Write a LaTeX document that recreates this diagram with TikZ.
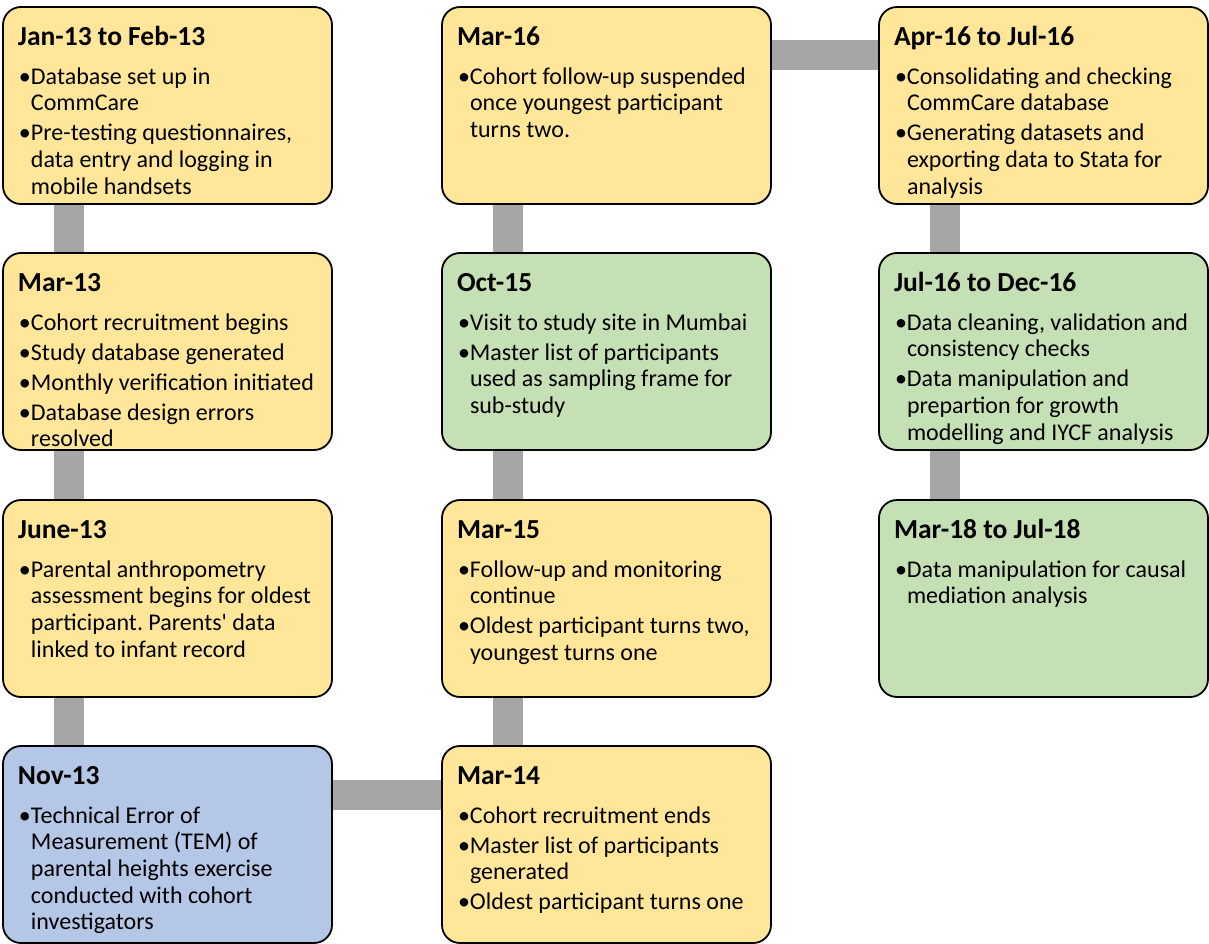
\documentclass[tikz,border=0pt]{standalone}
\usepackage{fontspec}
\setmainfont{Carlito}[Ligatures=TeXOff]
\usetikzlibrary{backgrounds}
\frenchspacing

\definecolor{phaseyellow}{HTML}{FFE699}
\definecolor{phasegreen}{HTML}{C5E0B4}
\definecolor{phaseblue}{HTML}{B4C7E7}
\definecolor{linkgray}{HTML}{A6A6A6}

\newcommand{\bul}{\hspace*{1bp}\makebox[12bp][l]{\textbullet}}
\newcommand{\ind}{\hspace*{13bp}}
\newcommand{\gap}{\\[3.3bp]}
\newcommand{\phase}[2]{\parbox[c][197bp][t]{299bp}{\raggedright
  \fontsize{24bp}{26.7bp}\selectfont
  \rule{0pt}{38bp}{\fontsize{27.5bp}{26.7bp}\selectfont\bfseries #1}\\[12.3bp]#2}}

\begin{document}
\begin{tikzpicture}[x=1bp,y=-1bp,
  phase/.style={draw=black,line width=1.8bp,rounded corners=18bp,
    inner xsep=15bp,inner ysep=0pt},
  link/.style={draw=linkgray,line width=30bp}]
\useasboundingbox (0,0) rectangle (1209,944);
%%
\node (node_0) at (167.5,105.5) [phase,fill=phaseyellow] {\phase{Jan-13 to Feb-13}{%
  \bul Database set up in\\ \ind CommCare\gap
  \bul Pre-testing questionnaires,\\ \ind data entry and logging in\\ \ind mobile handsets}};
\node (node_1) at (167.5,351.5) [phase,fill=phaseyellow] {\phase{Mar-13}{%
  \bul Cohort recruitment begins\gap
  \bul Study database generated\gap
  \bul Monthly verification initiated\gap
  \bul Database design errors\\ \ind resolved}};
\node (node_2) at (167.5,598.5) [phase,fill=phaseyellow] {\phase{June-13}{%
  \bul Parental anthropometry\\ \ind assessment begins for oldest\\
  \ind participant. Parents' data\\ \ind linked to infant record}};
\node (node_3) at (167.5,844.5) [phase,fill=phaseblue] {\phase{Nov-13}{%
  \bul Technical Error of\\ \ind Measurement (TEM) of\\ \ind parental heights exercise\\
  \ind conducted with cohort\\ \ind investigators}};
\node (node_4) at (606.5,844.5) [phase,fill=phaseyellow] {\phase{Mar-14}{%
  \bul Cohort recruitment ends\gap
  \bul Master list of participants\\ \ind generated\gap
  \bul Oldest participant turns one}};
\node (node_5) at (606.5,598.5) [phase,fill=phaseyellow] {\phase{Mar-15}{%
  \bul Follow-up and monitoring\\ \ind continue\gap
  \bul Oldest participant turns two,\\ \ind youngest turns one}};
\node (node_6) at (606.5,351.5) [phase,fill=phasegreen] {\phase{Oct-15}{%
  \bul Visit to study site in Mumbai\gap
  \bul Master list of participants\\ \ind used as sampling frame for\\ \ind sub-study}};
\node (node_7) at (606.5,105.5) [phase,fill=phaseyellow] {\phase{Mar-16}{%
  \bul Cohort follow-up suspended\\ \ind once youngest participant\\ \ind turns two.}};
\node (node_8) at (1043.5,105.5) [phase,fill=phaseyellow] {\phase{Apr-16 to Jul-16}{%
  \bul Consolidating and checking\\ \ind CommCare database\gap
  \bul Generating datasets and\\ \ind exporting data to Stata for\\ \ind analysis}};
\node (node_9) at (1043.5,351.5) [phase,fill=phasegreen] {\phase{Jul-16 to Dec-16}{%
  \bul Data cleaning, validation and\\ \ind consistency checks\gap
  \bul Data manipulation and\\ \ind prepartion for growth\\ \ind modelling and IYCF analysis}};
\node (node_10) at (1043.5,598.5) [phase,fill=phasegreen] {\phase{Mar-18 to Jul-18}{%
  \bul Data manipulation for causal\\ \ind mediation analysis}};
%
\begin{scope}[on background layer]
  \draw [link] ([xshift=67bp]node_0.south west) -- ([xshift=67bp]node_1.north west);
  \draw [link] ([xshift=67bp]node_1.south west) -- ([xshift=67bp]node_2.north west);
  \draw [link] ([xshift=67bp]node_2.south west) -- ([xshift=67bp]node_3.north west);
  \draw [link] ([yshift=-49.5bp]node_3.north east) -- ([yshift=-49.5bp]node_4.north west);
  \draw [link] ([xshift=67bp]node_4.north west) -- ([xshift=67bp]node_5.south west);
  \draw [link] ([xshift=67bp]node_5.north west) -- ([xshift=67bp]node_6.south west);
  \draw [link] ([xshift=67bp]node_6.north west) -- ([xshift=67bp]node_7.south west);
  \draw [link] ([yshift=-49bp]node_7.north east) -- ([yshift=-49bp]node_8.north west);
  \draw [link] ([xshift=67bp]node_8.south west) -- ([xshift=67bp]node_9.north west);
  \draw [link] ([xshift=67bp]node_9.south west) -- ([xshift=67bp]node_10.north west);
\end{scope}
%
\end{tikzpicture}
\end{document}
